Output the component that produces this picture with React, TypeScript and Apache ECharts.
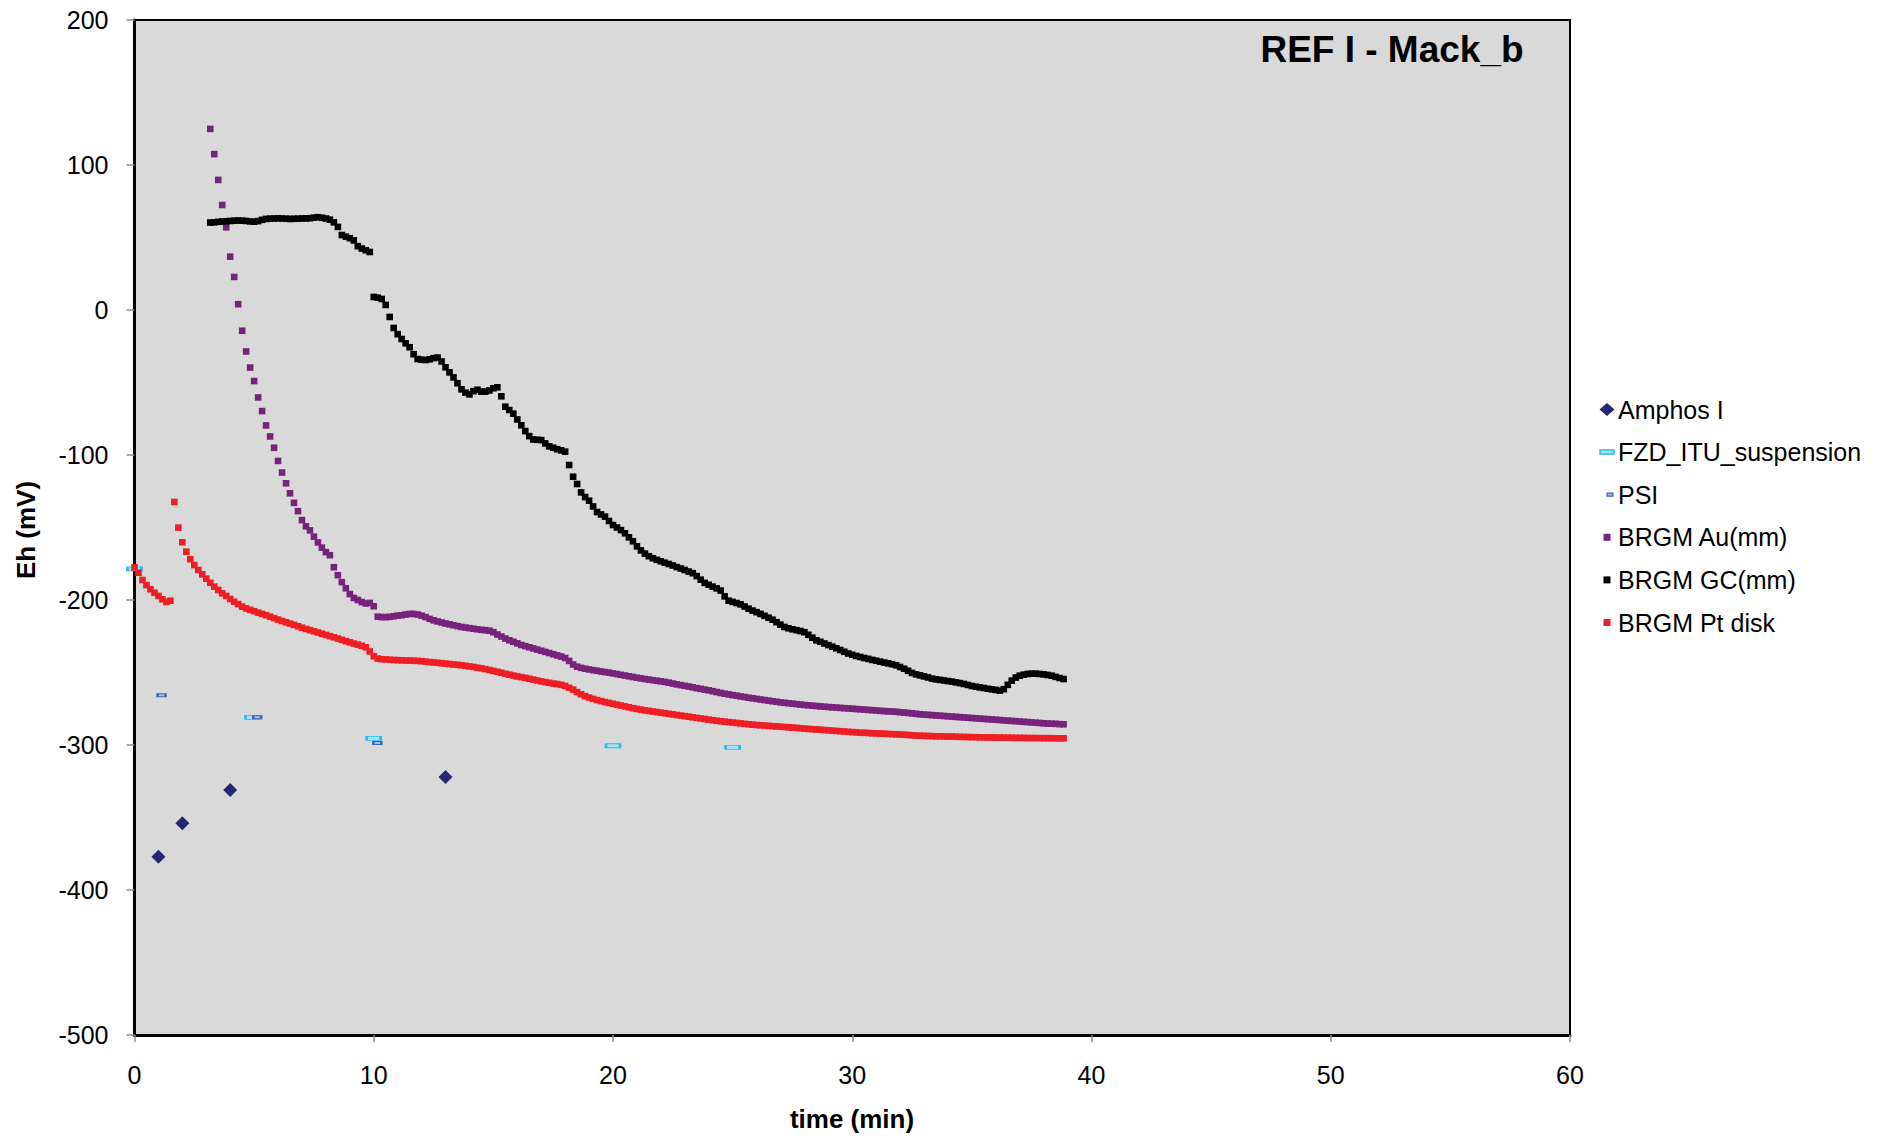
import { useEffect, useRef } from "react";
import * as echarts from "echarts";

// ---- series names (legend order = drawing order) ----
const SERIES_NAMES = [
  "Amphos I",
  "FZD_ITU_suspension",
  "PSI",
  "BRGM Au(mm)",
  "BRGM GC(mm)",
  "BRGM Pt disk",
];

// ---- discrete measurements: [time (min), Eh (mV)] ----
const AMPHOS_I: [number, number][] = [
  [1, -377],
  [2, -354],
  [4, -331],
  [13, -322],
];
const FZD_ITU: [number, number][] = [
  [0, -178.6],
  [4.93, -280.9],
  [10, -295.4],
  [20, -300.5],
  [25, -301.6],
];
const PSI: [number, number][] = [
  [1.13, -265.7],
  [5.13, -280.9],
  [10.15, -298.6],
];

// ---- BRGM electrodes, logged every 10 s; first sample index per electrode ----
const LOG_STEP_MIN = 10 / 60;
const PT_FIRST = 0;
const AU_FIRST = 19;
const GC_FIRST = 19;

const PT_DISK = [
  -177.5, -181.2, -186.2, -189.7, -192.6, -195.0, -197.2, -199.5, -201.4, -200.5,
  -132.4, -150.1, -160.2, -166.7, -171.9, -175.9, -179.3, -182.3, -185.3, -188.1,
  -190.8, -193.1, -195.4, -197.2, -199.3, -201.2, -202.8, -204.6, -205.8, -206.8,
  -207.7, -208.7, -209.6, -210.5, -211.5, -212.5, -213.5, -214.5, -215.4, -216.3,
  -217.2, -218.1, -219.1, -220.0, -220.8, -221.6, -222.4, -223.3, -224.1, -224.9,
  -225.7, -226.6, -227.5, -228.4, -229.2, -230.0, -230.8, -231.6, -232.6, -235.5,
  -238.8, -240.4, -240.8, -241.0, -241.2, -241.4, -241.5, -241.6, -241.7, -241.8,
  -241.9, -242.0, -242.2, -242.5, -242.8, -243.1, -243.3, -243.6, -243.9, -244.2,
  -244.5, -244.7, -245.0, -245.4, -245.8, -246.2, -246.7, -247.1, -247.7, -248.3,
  -248.9, -249.5, -250.2, -250.9, -251.5, -252.1, -252.7, -253.2, -253.7, -254.3,
  -254.9, -255.5, -256.1, -256.6, -257.1, -257.6, -258.0, -258.5, -259.3, -260.5,
  -261.8, -263.5, -265.0, -266.3, -267.3, -268.2, -269.0, -269.7, -270.4, -271.0,
  -271.6, -272.2, -272.8, -273.4, -274.0, -274.6, -275.1, -275.6, -276.1, -276.5,
  -276.9, -277.3, -277.7, -278.1, -278.5, -278.9, -279.3, -279.7, -280.1, -280.5,
  -280.9, -281.3, -281.7, -282.1, -282.5, -282.9, -283.3, -283.6, -283.9, -284.2,
  -284.5, -284.8, -285.1, -285.4, -285.7, -286.0, -286.2, -286.4, -286.6, -286.8,
  -287.0, -287.2, -287.4, -287.6, -287.8, -288.0, -288.2, -288.4, -288.7, -288.9,
  -289.1, -289.3, -289.5, -289.7, -289.9, -290.1, -290.3, -290.5, -290.7, -290.9,
  -291.1, -291.3, -291.5, -291.6, -291.7, -291.9, -292.0, -292.1, -292.2, -292.4,
  -292.5, -292.6, -292.8, -292.9, -293.1, -293.3, -293.5, -293.6, -293.7, -293.8,
  -293.9, -294.0, -294.0, -294.1, -294.2, -294.2, -294.3, -294.4, -294.4, -294.5,
  -294.6, -294.6, -294.7, -294.7, -294.8, -294.8, -294.9, -294.9, -295.0, -295.0,
  -295.0, -295.1, -295.1, -295.1, -295.2, -295.2, -295.2, -295.3, -295.3, -295.3,
  -295.3, -295.4, -295.4, -295.4,
];

const AU_MM = [
  124.9, 107.5, 89.7, 72.4, 57.0, 36.8, 22.8, 4.0, -14.3, -28.6,
  -39.7, -49.0, -60.3, -69.7, -79.6, -87.2, -95.0, -104.1, -112.1, -119.5,
  -126.4, -133.0, -138.7, -144.9, -149.2, -152.0, -156.3, -160.3, -163.9, -167.0,
  -169.1, -177.4, -182.9, -187.7, -191.9, -195.9, -198.6, -200.0, -201.4, -202.4,
  -202.0, -204.3,
  -211.5, -211.8, -211.8, -211.6, -211.2, -210.8, -210.5, -210.0, -209.6, -209.6,
  -210.0, -210.8, -211.8, -213.0, -214.0, -214.8, -215.5, -216.2, -216.8, -217.4,
  -218.0, -218.6, -219.0, -219.4, -219.8, -220.2, -220.6, -220.8, -221.2, -222.2,
  -223.8, -225.2, -226.6, -227.8, -228.8, -229.9, -231.0, -231.8, -232.6, -233.4,
  -234.2, -235.0, -235.8, -236.6, -237.4, -238.2, -239.0, -240.0, -242.0, -244.5,
  -246.0, -246.8, -247.4, -247.9, -248.4, -248.8, -249.3, -249.7, -250.1, -250.6,
  -251.1, -251.6, -252.1, -252.6, -253.1, -253.6, -254.1, -254.5, -254.9, -255.3,
  -255.7, -256.1, -256.5, -257.0, -257.6, -258.2, -258.7, -259.2, -259.7, -260.2,
  -260.8, -261.3, -261.8, -262.3, -262.9, -263.5, -264.1, -264.6, -265.1, -265.6,
  -266.0, -266.5, -266.9, -267.4, -267.8, -268.2, -268.6, -269.0, -269.4, -269.8,
  -270.2, -270.6, -270.9, -271.2, -271.5, -271.8, -272.1, -272.4, -272.6, -272.9,
  -273.1, -273.4, -273.6, -273.8, -274.0, -274.2, -274.4, -274.6, -274.8, -275.0,
  -275.2, -275.4, -275.6, -275.8, -276.0, -276.2, -276.4, -276.6, -276.8, -276.9,
  -277.1, -277.4, -277.6, -277.9, -278.2, -278.5, -278.8, -279.0, -279.2, -279.4,
  -279.6, -279.8, -280.0, -280.2, -280.4, -280.6, -280.8, -281.0, -281.2, -281.4,
  -281.6, -281.8, -282.0, -282.2, -282.4, -282.6, -282.8, -283.0, -283.2, -283.4,
  -283.6, -283.8, -284.0, -284.2, -284.4, -284.6, -284.8, -285.0, -285.2, -285.3,
  -285.4, -285.6, -285.7,
];

const GC_MM = [
  60.3, 60.5, 60.8, 61.0, 61.2, 61.4, 61.6, 61.7, 61.6, 61.4,
  61.1, 60.9, 61.3, 62.2, 62.8, 63.0, 63.1, 63.2, 63.1, 63.0,
  62.8, 62.9, 63.0, 63.1, 63.2, 63.3, 63.7, 64.0, 63.6, 63.1,
  62.3, 60.5, 57.3, 51.7, 50.6, 49.5, 48.0, 44.0, 42.4, 41.2,
  40.0,
  9.0, 8.5, 7.6, 3.5, -4.8, -12.4, -16.7, -20.0, -23.0, -25.7,
  -30.5, -33.8, -34.3, -34.5, -34.0, -33.2, -32.8, -35.5, -39.5, -43.0,
  -46.5, -50.5, -54.7, -57.0, -58.2, -56.0, -55.0, -56.3, -56.3, -55.5,
  -54.0, -53.3, -59.5, -66.7, -69.0, -71.5, -75.5, -79.5, -83.5, -87.0,
  -89.3, -89.5, -89.7, -92.0, -94.0, -95.0, -96.0, -96.8, -97.7, -106.9,
  -115.0, -120.0, -125.8, -129.0, -131.5, -135.5, -139.3, -141.0, -142.5, -145.5,
  -148.3, -150.0, -151.8, -154.0, -156.8, -159.5, -163.0, -165.8, -168.0, -169.8,
  -171.2, -172.3, -173.3, -174.3, -175.2, -176.2, -177.3, -178.3, -179.3, -180.4,
  -181.5, -183.5, -186.0, -188.2, -189.5, -190.8, -192.0, -193.5, -197.5, -200.5,
  -201.3, -202.1, -203.0, -204.5, -206.0, -207.3, -208.4, -209.6, -210.9, -212.2,
  -213.6, -215.3, -217.0, -218.6, -219.5, -220.2, -220.8, -221.4, -222.2, -224.0,
  -226.0, -227.8, -228.8, -230.0, -231.1, -232.2, -233.3, -234.5, -235.7, -236.9,
  -237.8, -238.6, -239.3, -240.0, -240.6, -241.3, -241.9, -242.5, -243.1, -243.7,
  -244.3, -245.0, -246.2, -247.4, -248.8, -250.3, -251.3, -252.0, -252.7, -253.4,
  -254.2, -254.7, -255.1, -255.5, -255.9, -256.3, -256.8, -257.3, -257.9, -258.6,
  -259.3, -259.8, -260.3, -260.7, -261.2, -261.6, -262.0, -262.5, -261.5, -258.5,
  -255.6, -253.5, -252.2, -251.5, -251.0, -250.8, -250.8, -251.0, -251.3, -251.7,
  -252.2, -253.0, -253.8, -254.5,
];

// ---- axes ----
const X_MIN = 0;
const X_MAX = 60;
const X_STEP = 10;
const Y_MIN = -500;
const Y_MAX = 200;
const Y_STEP = 100;

const TITLE = "REF I - Mack_b";
const X_NAME = "time (min)";
const Y_NAME = "Eh (mV)";

const FONT = "'Liberation Sans', Arial, sans-serif";

function logged(first: number, values: number[]): [number, number][] {
  return values.map((v, k) => [(first + k) * LOG_STEP_MIN, v]);
}

// marker look of each series (also used for the legend keys)
const MARKERS = [
  { symbol: "diamond", size: 14, color: "#262673", border: null as string | null },
  { symbol: "rect", size: [14, 4], color: "#a4e2f7", border: "#2dbbed" },
  { symbol: "rect", size: [8, 3], color: "#a9bbe6", border: "#3f63b5" },
  { symbol: "rect", size: 6.6, color: "#77237b", border: null },
  { symbol: "rect", size: 6.6, color: "#000000", border: null },
  { symbol: "rect", size: 6.6, color: "#ee1f24", border: null },
];

const LEGEND_X = 1607;
const LEGEND_TEXT_X = 1618;
const LEGEND_Y0 = 409.5;
const LEGEND_GAP = 42.6;

function legendKey(i: number, cy: number): any {
  const m = MARKERS[i];
  if (m.symbol === "diamond") {
    return {
      type: "polygon",
      shape: { points: [[LEGEND_X - 7.5, cy], [LEGEND_X, cy - 6.5], [LEGEND_X + 7.5, cy], [LEGEND_X, cy + 6.5]] },
      style: { fill: m.color },
    };
  }
  if (i === 1) {
    return {
      type: "rect",
      shape: { x: LEGEND_X - 7, y: cy - 2, width: 14, height: 4 },
      style: { fill: m.color, stroke: m.border, lineWidth: 1.5 },
    };
  }
  if (i === 2) {
    return {
      type: "rect",
      shape: { x: LEGEND_X, y: cy - 1.5, width: 6, height: 3 },
      style: { fill: m.color, stroke: m.border, lineWidth: 1.2 },
    };
  }
  return {
    type: "rect",
    shape: { x: LEGEND_X - 3.5, y: cy - 3.5, width: 7, height: 7 },
    style: { fill: m.color },
  };
}

export default function App() {
  const ref = useRef<HTMLDivElement>(null);

  useEffect(() => {
    if (!ref.current) return;
    const chart = echarts.init(ref.current, undefined, { renderer: "svg" });

    const seriesData: [number, number][][] = [
      AMPHOS_I,
      FZD_ITU,
      PSI,
      logged(AU_FIRST, AU_MM),
      logged(GC_FIRST, GC_MM),
      logged(PT_FIRST, PT_DISK),
    ];

    const series = SERIES_NAMES.map((name, i) => {
      const m = MARKERS[i];
      return {
        name,
        type: "scatter",
        data: seriesData[i],
        symbol: m.symbol,
        symbolSize: m.size,
        itemStyle: m.border
          ? { color: m.color, borderColor: m.border, borderWidth: 1.5, opacity: 1 }
          : { color: m.color, opacity: 1 },
        emphasis: { disabled: true },
      };
    });

    const legendElements: any[] = [];
    SERIES_NAMES.forEach((name, i) => {
      const cy = LEGEND_Y0 + i * LEGEND_GAP;
      legendElements.push(legendKey(i, cy));
      legendElements.push({
        type: "text",
        x: LEGEND_TEXT_X,
        y: cy,
        style: {
          text: name,
          fontSize: 25,
          fontFamily: FONT,
          fill: "#000",
          align: "left",
          verticalAlign: "middle",
        },
      });
    });

    chart.setOption({
      animation: false,
      backgroundColor: "#ffffff",
      grid: {
        left: 134.5,
        top: 20,
        right: 309,
        bottom: 104,
        show: true,
        backgroundColor: "#d9d9d9",
        borderColor: "#000000",
        borderWidth: 2,
      },
      xAxis: {
        type: "value",
        min: X_MIN,
        max: X_MAX,
        interval: X_STEP,
        axisLine: { show: true, onZero: false, lineStyle: { color: "#000", width: 3 } },
        axisTick: { show: true, inside: false, length: 7, lineStyle: { color: "#8c8c8c", width: 1.5 } },
        axisLabel: { color: "#000", fontSize: 25, fontFamily: FONT, margin: 27 },
        splitLine: { show: false },
      },
      yAxis: {
        type: "value",
        min: Y_MIN,
        max: Y_MAX,
        interval: Y_STEP,
        axisLine: { show: true, onZero: false, lineStyle: { color: "#000", width: 3 } },
        axisTick: { show: true, inside: false, length: 8, lineStyle: { color: "#8c8c8c", width: 1.5 } },
        axisLabel: { color: "#000", fontSize: 25, fontFamily: FONT, margin: 26 },
        splitLine: { show: false },
      },
      graphic: [
        {
          type: "text",
          x: 1392,
          y: 49,
          style: {
            text: TITLE,
            fontSize: 37,
            fontWeight: "bold",
            fontFamily: FONT,
            fill: "#000",
            align: "center",
            verticalAlign: "middle",
          },
        },
        {
          type: "text",
          x: 852,
          y: 1119,
          style: {
            text: X_NAME,
            fontSize: 26,
            fontWeight: "bold",
            fontFamily: FONT,
            fill: "#000",
            align: "center",
            verticalAlign: "middle",
          },
        },
        {
          type: "text",
          x: 26,
          y: 530,
          rotation: Math.PI / 2,
          style: {
            text: Y_NAME,
            fontSize: 26,
            fontWeight: "bold",
            fontFamily: FONT,
            fill: "#000",
            align: "center",
            verticalAlign: "middle",
          },
        },
        ...legendElements,
      ],
      series,
    });

    return () => chart.dispose();
  }, []);

  return (
    <div
      ref={ref}
      style={{ position: "absolute", left: 0, top: 0, width: 1879, height: 1139 }}
    />
  );
}
